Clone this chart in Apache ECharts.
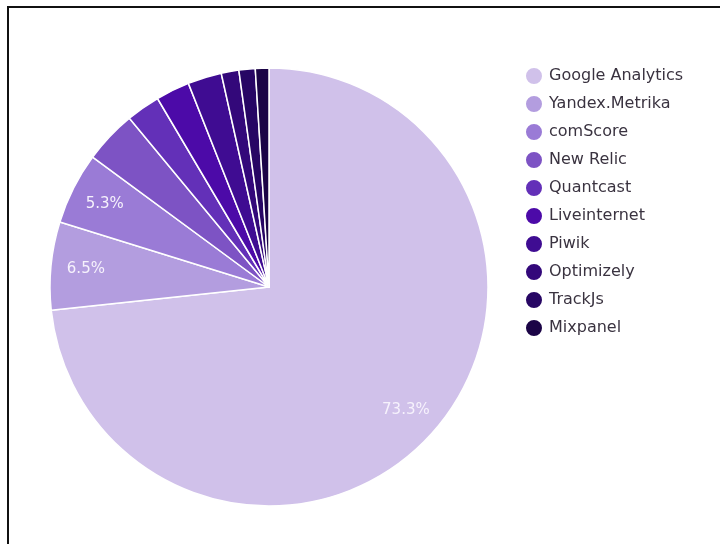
<!DOCTYPE html>
<html>
<head>
<meta charset="utf-8">
<script src="https://cdn.jsdelivr.net/npm/echarts@6/dist/echarts.min.js"></script>
<style>
html,body{margin:0;padding:0;background:#fff;}
#frame{position:absolute;left:7px;top:6px;width:800px;height:600px;border-left:2px solid #111;border-top:2px solid #111;}
#chart{position:absolute;left:0;top:0;width:720px;height:544px;}
</style>
</head>
<body>
<div id="frame"></div>
<div id="chart"></div>
<script>
const categories = ['Google Analytics','Yandex.Metrika','comScore','New Relic','Quantcast','Liveinternet','Piwik','Optimizely','TrackJs','Mixpanel'];
const values = [73.3, 6.5, 5.3, 3.9, 2.5, 2.5, 2.5, 1.3, 1.2, 1.0];
const colors = ['#d0c1ea','#b39ddf','#9a7bd6','#7d53c4','#6330b8','#4c0aa8','#3f0c92','#33087a','#270664','#1b0446'];

const data = categories.map((n, i) => ({name: n, value: values[i], itemStyle: {color: colors[i]}}));
const font = '"DejaVu Sans", "Noto Sans", sans-serif';
const chart = echarts.init(document.getElementById('chart'));
chart.setOption({
  animation: false,
  legend: {
    orient: 'vertical',
    left: 524, top: 66,
    padding: 0,
    icon: 'circle',
    itemWidth: 18, itemHeight: 18,
    itemGap: 8,
    textStyle: {fontFamily: font, fontSize: 16, color: '#3a3340', padding: [0,0,0,1]},
    data: categories
  },
  series: [
    {
      type: 'pie',
      center: [269, 287],
      radius: [0, 219],
      startAngle: 90,
      clockwise: true,
      label: {show: false},
      labelLine: {show: false},
      itemStyle: {borderColor: '#fff', borderWidth: 1.5},
      data: data
    },
    {
      type: 'pie',
      center: [269, 287],
      radius: [143, 219],
      startAngle: 90,
      clockwise: true,
      silent: true,
      legendHoverLink: false,
      itemStyle: {color: 'rgba(0,0,0,0)', borderWidth: 0},
      labelLine: {show: false},
      label: {
        show: true,
        position: 'inside',
        fontFamily: font,
        fontSize: 15,
        color: '#f6f2fc',
        formatter: p => p.value >= 5 ? p.value.toFixed(1) + '%' : ''
      },
      data: categories.map((n, i) => ({name: n, value: values[i]}))
    }
  ]
});
</script>
</body>
</html>
